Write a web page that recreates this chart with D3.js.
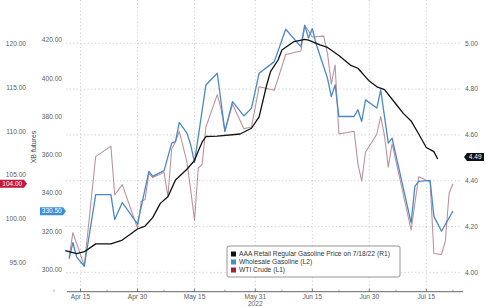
<!DOCTYPE html>
<html><head><meta charset="utf-8">
<script src="https://cdn.jsdelivr.net/npm/d3@7"></script>
<style>
html,body{margin:0;padding:0;background:#fff;}
svg{display:block;font-family:"Liberation Sans",Arial,sans-serif;}
</style></head><body>
<svg id="c" width="485" height="307"></svg>
<script>
// ---- data ----
const aaaDates = ["2022-04-11","2022-04-14","2022-04-16","2022-04-19","2022-04-23","2022-04-26","2022-04-30","2022-05-02","2022-05-04","2022-05-06","2022-05-08","2022-05-10","2022-05-13","2022-05-15","2022-05-16","2022-05-17","2022-05-18","2022-05-21","2022-05-27","2022-05-30","2022-06-01","2022-06-03","2022-06-04","2022-06-06","2022-06-07","2022-06-10","2022-06-13","2022-06-14","2022-06-17","2022-06-19","2022-06-22","2022-06-25","2022-06-27","2022-06-30","2022-07-02","2022-07-04","2022-07-07","2022-07-09","2022-07-11","2022-07-13","2022-07-15","2022-07-17","2022-07-18"];
const aaaValues = [4.095,4.082,4.090,4.124,4.124,4.141,4.189,4.202,4.239,4.301,4.330,4.403,4.450,4.488,4.530,4.568,4.593,4.595,4.604,4.629,4.679,4.818,4.876,4.927,4.971,5.006,5.017,5.014,4.993,4.982,4.947,4.905,4.891,4.835,4.810,4.798,4.735,4.693,4.661,4.604,4.545,4.527,4.495];

const xbDates = ["2022-04-12","2022-04-13","2022-04-14","2022-04-16","2022-04-19","2022-04-23","2022-04-24","2022-04-26","2022-04-30","2022-05-03","2022-05-04","2022-05-07","2022-05-09","2022-05-10","2022-05-11","2022-05-13","2022-05-14","2022-05-15","2022-05-18","2022-05-21","2022-05-23","2022-05-25","2022-05-28","2022-05-30","2022-06-01","2022-06-05","2022-06-08","2022-06-12","2022-06-13","2022-06-14","2022-06-15","2022-06-16","2022-06-19","2022-06-20","2022-06-21","2022-06-22","2022-06-26","2022-06-27","2022-06-28","2022-06-29","2022-07-02","2022-07-03","2022-07-05","2022-07-06","2022-07-11","2022-07-12","2022-07-13","2022-07-16","2022-07-17","2022-07-19","2022-07-22"];
const xbValues = [305.6,314.1,306.5,301.7,339.1,339.1,326.1,335.0,323.8,351.3,348.7,351.7,366.1,366.9,376.9,371.3,365.2,356.0,396.5,402.6,372.2,387.8,380.3,384.4,402.6,408.7,425.6,416.5,427.8,421.0,426.0,418.0,400.0,390.4,396.5,380.0,380.0,383.5,377.4,388.7,384.4,393.9,366.1,368.7,324.4,343.5,346.1,346.6,327.8,320.0,330.5];

const wtiDates = ["2022-04-12","2022-04-13","2022-04-16","2022-04-19","2022-04-23","2022-04-24","2022-04-26","2022-04-30","2022-05-01","2022-05-02","2022-05-03","2022-05-04","2022-05-07","2022-05-08","2022-05-09","2022-05-10","2022-05-11","2022-05-13","2022-05-14","2022-05-15","2022-05-16","2022-05-17","2022-05-18","2022-05-21","2022-05-22","2022-05-23","2022-05-25","2022-05-28","2022-05-30","2022-06-01","2022-06-05","2022-06-08","2022-06-12","2022-06-13","2022-06-14","2022-06-15","2022-06-18","2022-06-19","2022-06-20","2022-06-21","2022-06-22","2022-06-26","2022-06-27","2022-06-28","2022-06-29","2022-07-02","2022-07-03","2022-07-04","2022-07-05","2022-07-06","2022-07-11","2022-07-13","2022-07-16","2022-07-17","2022-07-19","2022-07-20","2022-07-21","2022-07-22"];
const wtiValues = [95.6,98.4,94.6,107.1,108.3,102.7,103.9,98.9,102.0,102.2,105.2,104.7,105.3,102.5,108.0,108.8,110.0,106.5,103.3,99.8,105.8,106.2,110.5,114.2,112.5,110.0,113.1,110.3,110.5,115.1,114.7,118.8,119.2,122.1,121.5,120.8,120.9,118.9,115.4,117.6,109.7,110.0,106.3,104.3,107.6,109.7,111.7,109.5,105.9,108.6,98.7,104.8,104.2,96.0,95.9,97.4,102.9,104.0];

const xTickDates = ["2022-04-15","2022-04-30","2022-05-15","2022-05-31","2022-06-15","2022-06-30","2022-07-15"];
const xTickLabels = ["Apr 15","Apr 30","May 15","May 31","Jun 15","Jun 30","Jul 15"];
const minorTickDates = ["2022-04-08","2022-04-22","2022-05-07","2022-05-23","2022-06-07","2022-06-22","2022-07-07","2022-07-22"];
const yearLabel = "2022";
const r1Ticks = [4.0,4.2,4.4,4.6,4.8,5.0];
const l1Ticks = [95,100,105,110,115,120];
const l2Ticks = [300,320,340,360,380,400,420];
const legendLabels = ["AAA Retail Regular Gasoline Price on 7/18/22 (R1)","Wholesale Gasoline (L2)","WTI Crude (L1)"];
const l2Title = "XB futures";
const lastAAA = "4.49", lastXB = "330.50", lastWTI = "104.00";

// ---- drawing ----
const parse = d3.utcParse("%Y-%m-%d");
const svg = d3.select("#c");
const x = d3.scaleUtc().domain([parse("2022-04-15"), parse("2022-07-15")]).range([80.5, 426.3]);
const yR = d3.scaleLinear().domain([4.0, 5.0]).range([272.3, 43.3]);
const yL1 = d3.scaleLinear().domain([95, 120]).range([262.3, 44]);
const yL2 = d3.scaleLinear().domain([300, 420]).range([269.5, 40]);

const plotL = 66, plotR = 462, axisY = 291.7;
const gridCol = "#c4c4c4", textCol = "#606060";

// gridlines
const g = svg.append("g");
g.selectAll(".hg").data(r1Ticks).join("line")
  .attr("x1", plotL).attr("x2", plotR)
  .attr("y1", d => yR(d)).attr("y2", d => yR(d))
  .attr("stroke", gridCol).attr("stroke-width", 0.8).attr("stroke-dasharray", "1.2,2.4");
g.selectAll(".vg").data(xTickDates).join("line")
  .attr("x1", d => x(parse(d))).attr("x2", d => x(parse(d)))
  .attr("y1", 0).attr("y2", axisY)
  .attr("stroke", gridCol).attr("stroke-width", 0.8).attr("stroke-dasharray", "1.2,2.4");

// x axis
svg.append("line").attr("x1", 67).attr("x2", 463).attr("y1", axisY).attr("y2", axisY)
  .attr("stroke", "#555").attr("stroke-width", 0.9);
svg.selectAll(".mt").data(xTickDates).join("line")
  .attr("x1", d => x(parse(d))).attr("x2", d => x(parse(d)))
  .attr("y1", axisY - 3).attr("y2", axisY).attr("stroke", "#555").attr("stroke-width", 0.8);
svg.selectAll(".nt").data(minorTickDates).join("line")
  .attr("x1", d => x(parse(d))).attr("x2", d => x(parse(d)))
  .attr("y1", axisY - 2).attr("y2", axisY).attr("stroke", "#777").attr("stroke-width", 0.7);
svg.selectAll(".xl").data(xTickDates).join("text")
  .attr("x", (d) => x(parse(d))).attr("y", 298.5)
  .attr("text-anchor", "middle").attr("font-size", 6.6).attr("fill", textCol)
  .text((d, i) => xTickLabels[i]);
svg.append("text").attr("x", x(parse("2022-05-31"))).attr("y", 306)
  .attr("text-anchor", "middle").attr("font-size", 6.6).attr("fill", textCol).text(yearLabel);

// y labels
svg.selectAll(".rl").data(r1Ticks).join("text")
  .attr("x", 465).attr("y", d => yR(d)).attr("dy", "0.35em")
  .attr("font-size", 6.6).attr("fill", textCol).text(d => d.toFixed(2));
svg.selectAll(".l1").data(l1Ticks).join("text")
  .attr("x", 26).attr("y", d => yL1(d)).attr("dy", "0.35em").attr("text-anchor", "end")
  .attr("font-size", 6.6).attr("fill", textCol).text(d => d.toFixed(2));
svg.selectAll(".l2").data(l2Ticks).join("text")
  .attr("x", 62).attr("y", d => yL2(d)).attr("dy", "0.35em").attr("text-anchor", "end")
  .attr("font-size", 6.6).attr("fill", textCol).text(d => d.toFixed(2));
svg.append("text").attr("transform", "translate(36,147) rotate(-90)")
  .attr("text-anchor", "middle").attr("font-size", 7).attr("fill", "#4a4a4a").text(l2Title);

// lines
const mk = (dates, vals, ys) => d3.line().x((d, i) => x(parse(dates[i]))).y((d) => ys(d))(vals);
svg.append("path").attr("d", mk(wtiDates, wtiValues, yL1)).attr("fill", "none")
  .attr("stroke", "#bc8e99").attr("stroke-width", 1.05).attr("stroke-linejoin", "round");
svg.append("path").attr("d", mk(xbDates, xbValues, yL2)).attr("fill", "none")
  .attr("stroke", "#4a89c4").attr("stroke-width", 1.3).attr("stroke-linejoin", "round");
svg.append("path").attr("d", mk(aaaDates, aaaValues, yR)).attr("fill", "none")
  .attr("stroke", "#111").attr("stroke-width", 1.3).attr("stroke-linejoin", "round");

// badges
function badge(xl, w, yc, col, txt, pointLeft) {
  const h = 8, p = 3;
  let d;
  if (pointLeft) d = `M${xl},${yc} L${xl+p},${yc-h/2} H${xl+w} V${yc+h/2} H${xl+p} Z`;
  else d = `M${xl},${yc-h/2} H${xl+w-p} L${xl+w},${yc} L${xl+w-p},${yc+h/2} H${xl} Z`;
  svg.append("path").attr("d", d).attr("fill", col);
  svg.append("text").attr("x", xl + w/2 + (pointLeft ? 1.2 : -1.2)).attr("y", yc).attr("dy", "0.35em")
    .attr("text-anchor", "middle").attr("font-size", 6.5).attr("fill", "#fff").text(txt);
}
badge(0, 27, yL1(wtiValues[wtiValues.length-1]), "#c4173f", lastWTI, false);
badge(40, 26, yL2(xbValues[xbValues.length-1]), "#3d8fd6", lastXB, false);
badge(464, 20, yR(aaaValues[aaaValues.length-1]) - 2, "#111", lastAAA, true);

// legend
const lg = svg.append("g");
lg.append("rect").attr("x", 227).attr("y", 246).attr("width", 173).attr("height", 31).attr("rx", 2)
  .attr("fill", "#fff").attr("stroke", "#8a8a8a").attr("stroke-width", 0.9);
const legCols = ["#111", "#3d8fd6", "#a3213f"];
lg.selectAll(".ls").data(legendLabels).join("rect")
  .attr("x", 231).attr("y", (d, i) => 251.5 + i * 8).attr("width", 5).attr("height", 5)
  .attr("fill", (d, i) => legCols[i]);
lg.selectAll(".lt").data(legendLabels).join("text")
  .attr("x", 239).attr("y", (d, i) => 254 + i * 8).attr("dy", "0.35em")
  .attr("font-size", 6.7).attr("fill", "#333").text(d => d);
</script></body></html>
